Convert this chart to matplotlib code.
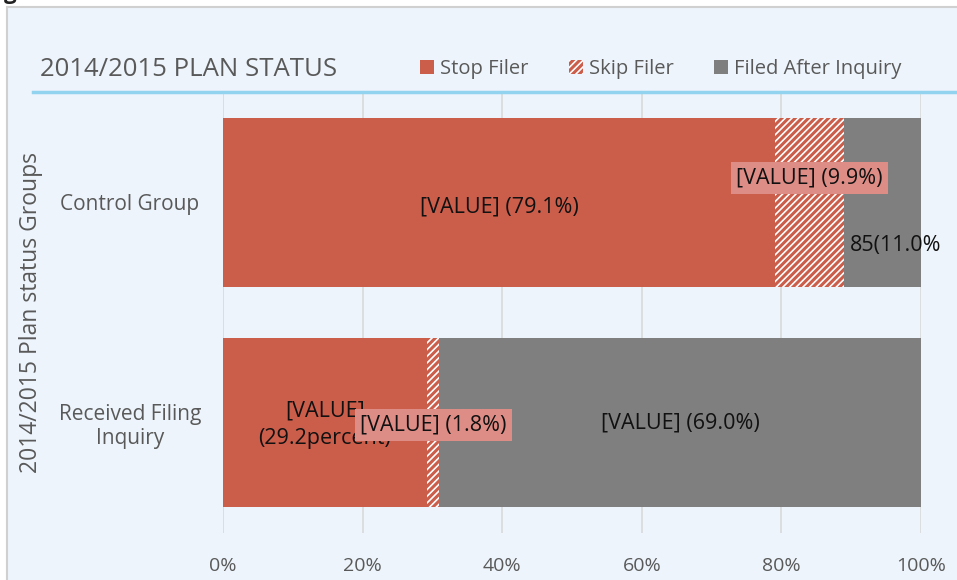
import matplotlib.pyplot as plt
import matplotlib.patches as mpatches
from matplotlib.lines import Line2D
import numpy as np

plt.rcParams['font.family'] = ['Open Sans', 'DejaVu Sans']
plt.rcParams['hatch.linewidth'] = 2.2

groups = ['Control Group', 'Received Filing\nInquiry']
series = ['Stop Filer', 'Skip Filer', 'Filed After Inquiry']
stop_filer = [79.1, 29.2]
skip_filer = [9.9, 1.8]
filed_after = [11.0, 69.0]
bar_labels = [
    ['[VALUE] (79.1%)', '[VALUE] (9.9%)', '85(11.0%'],
    ['[VALUE]\n(29.2percent)', '[VALUE] (1.8%)', '[VALUE] (69.0%)'],
]
xticks = [0, 20, 40, 60, 80, 100]

red = '#CB5D4B'
gray = '#7F7F7F'
pink = '#DE8D86'
bg = '#EDF4FB'
txt = '#595959'

fig = plt.figure(figsize=(9.57, 5.8), dpi=100)
fig.patch.set_facecolor('white')
# chart area panel
fig.patches.append(mpatches.Rectangle((7 / 957, -0.01), 1, 1.01 - 7 / 580, transform=fig.transFigure,
                                      facecolor=bg, edgecolor='#D0D0D0', linewidth=1.5, zorder=-10))
fig.text(0.004, 1.012, 'g', fontsize=16, fontweight='bold', color='#222222', ha='left', va='center')

ax = fig.add_axes([223 / 957, 1 - 533 / 580, 698 / 957, 441 / 580])
ax.set_facecolor('none')

y = np.arange(len(groups))
h = 0.767
left = np.zeros(len(groups))
ax.barh(y, stop_filer, height=h, left=left, color=red, zorder=2)
left = left + np.array(stop_filer)
ax.barh(y, skip_filer, height=h, left=left, color='white', edgecolor=red, hatch='/////',
        linewidth=0, zorder=2)
left = left + np.array(skip_filer)
ax.barh(y, filed_after, height=h, left=left, color=gray, zorder=2)

ax.set_xlim(0, 100)
ax.set_ylim(1.5, -0.5)
ax.set_xticks(xticks)
ax.set_xticklabels(['%d%%' % t for t in xticks])
ax.set_yticks(y)
ax.set_yticklabels(groups, ha='center')
ax.tick_params(axis='x', length=0, pad=17, labelsize=14, labelcolor=txt)
ax.tick_params(axis='y', length=0, pad=67, labelsize=15, labelcolor=txt)
ax.xaxis.grid(True, color='#D9D9D9', linewidth=1.2, zorder=0)
for s in ax.spines.values():
    s.set_visible(False)
ax.set_ylabel('2014/2015 Plan status Groups', fontsize=16.5, color=txt)
ax.yaxis.set_label_coords(-0.258, 0.5)

lab_kw = dict(fontsize=15.5, color='#111111', zorder=5)
box = dict(boxstyle='square,pad=0.25', facecolor=pink, edgecolor='none')
# control group
ax.text(stop_filer[0] / 2, 0.02, bar_labels[0][0], ha='center', va='center', **lab_kw)
ax.text(stop_filer[0] + skip_filer[0] / 2, -0.11, bar_labels[0][1], ha='center', va='center',
        bbox=box, **lab_kw)
ax.text(stop_filer[0] + skip_filer[0] + 0.8, 0.195, bar_labels[0][2], ha='left', va='center', **lab_kw)
# received filing inquiry
ax.text(stop_filer[1] / 2, 1.01, bar_labels[1][0], ha='center', va='center', linespacing=1.4, **lab_kw)
ax.text(stop_filer[1] + skip_filer[1] / 2, 1.01, bar_labels[1][1], ha='center', va='center',
        bbox=box, **lab_kw)
ax.text(stop_filer[1] + skip_filer[1] + filed_after[1] / 2, 1.0, bar_labels[1][2], ha='center',
        va='center', **lab_kw)

# title, rule and legend
fig.text(40 / 957, 1 - 70 / 580, '2014/2015 PLAN STATUS', fontsize=18.5, color=txt, ha='left', va='center')
fig.lines.append(Line2D([33 / 957, 1], [1 - 92 / 580] * 2, transform=fig.transFigure,
                        color='#92D3EF', linewidth=2.5))
handles = [mpatches.Patch(facecolor=red, edgecolor='none'),
           mpatches.Patch(facecolor='white', edgecolor=red, hatch='/////', linewidth=0),
           mpatches.Patch(facecolor=gray, edgecolor='none')]
leg = fig.legend(handles, series, loc='center left', bbox_to_anchor=(420 / 957, 1 - 69 / 580),
                 ncol=3, frameon=False, fontsize=14.5, handlelength=0.7, handleheight=0.7,
                 handletextpad=0.3, columnspacing=2.0, borderpad=0, borderaxespad=0)
for t in leg.get_texts():
    t.set_color(txt)

fig.savefig('out.png', dpi=100, facecolor='white')
